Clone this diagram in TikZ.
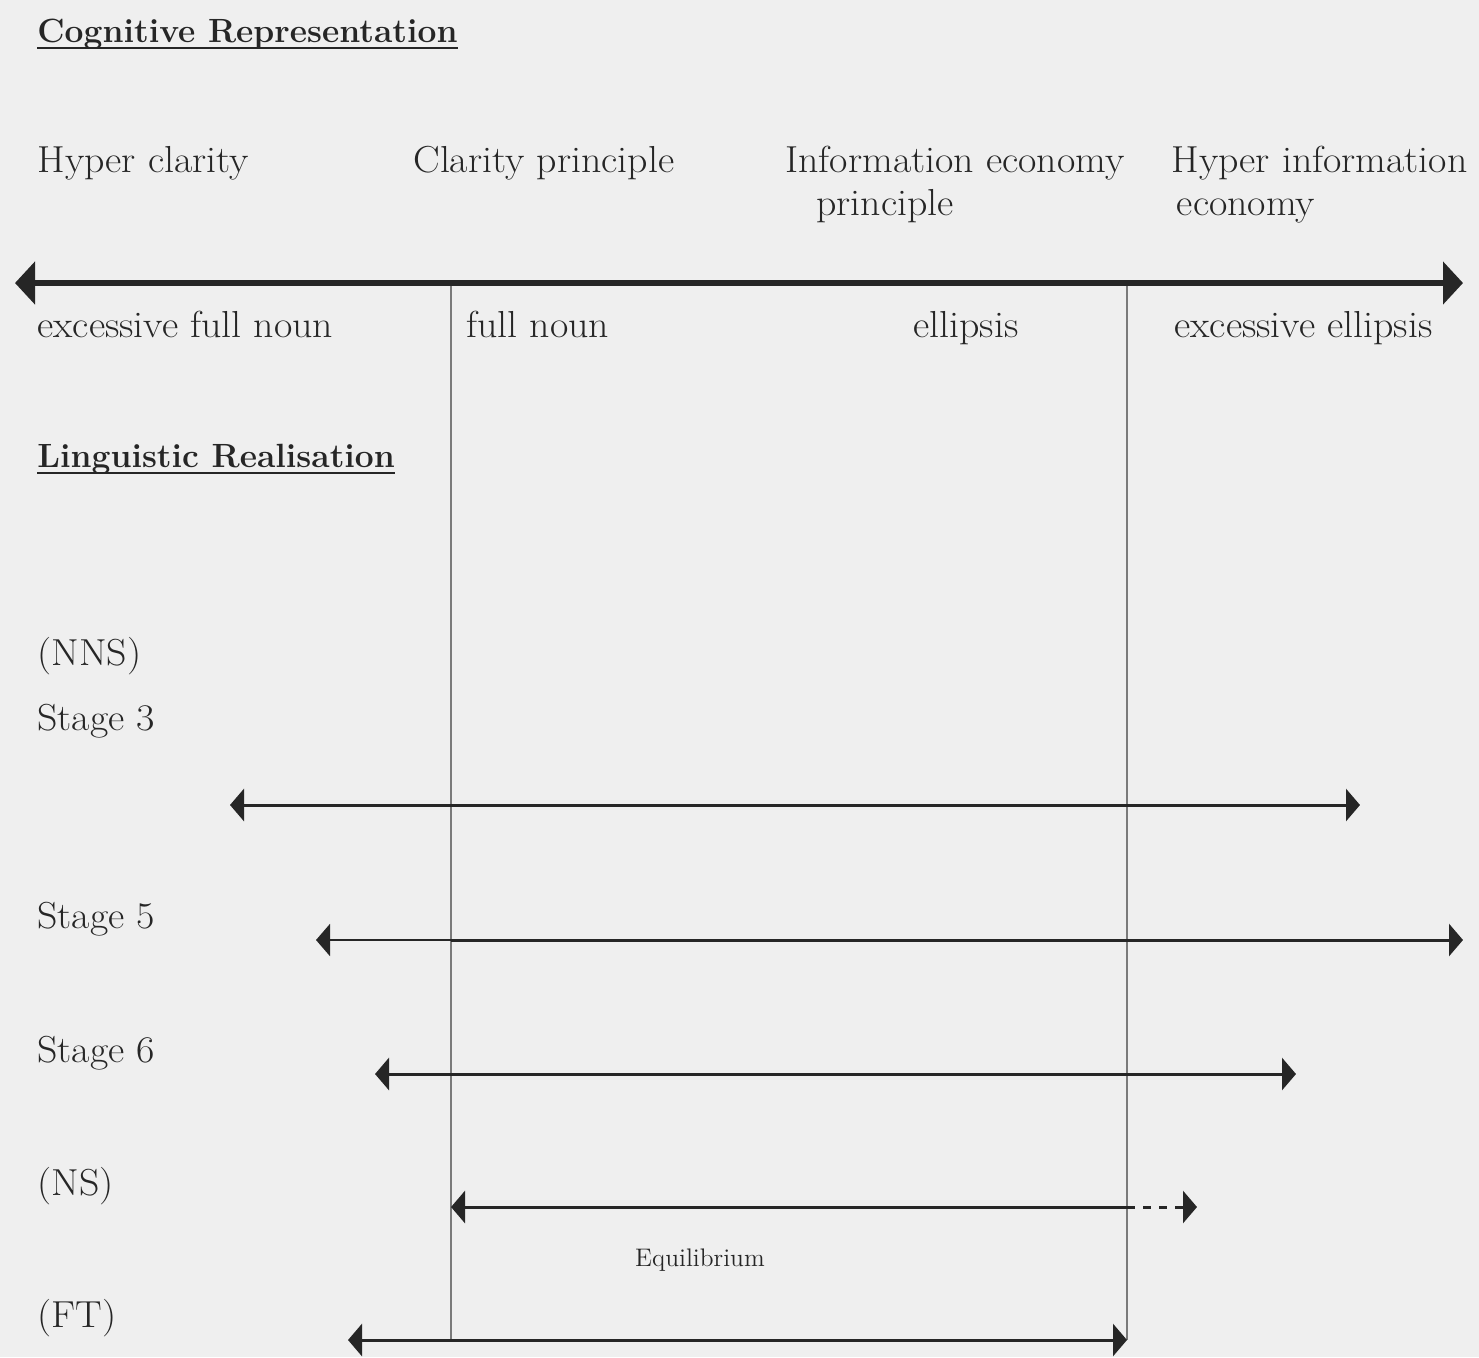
\documentclass[tikz,border=0pt]{standalone}
\usetikzlibrary{arrows.meta}
\definecolor{bg}{HTML}{EFEFEF}
\definecolor{ink}{HTML}{262626}
\definecolor{vline}{HTML}{7A7A7A}
\newcommand{\wide}[1]{\scalebox{1.06}[1]{#1}}
\begin{document}
\begin{tikzpicture}[x=0.5pt,y=-0.5pt,
  lbl/.style={anchor=base west,inner sep=0pt,text=ink,font=\fontsize{18.8}{22}\selectfont},
  lblc/.style={lbl,anchor=base},
  head/.style={anchor=base west,inner sep=0pt,text=ink,font=\fontsize{16.8}{20}\selectfont\bfseries},
  small/.style={anchor=base,inner sep=0pt,text=ink,font=\fontsize{12.7}{15}\selectfont},
  bigboth/.style={{Triangle[length=10pt,width=21pt]}-{Triangle[length=10pt,width=21pt]}},
  tipboth/.style={{Triangle[length=7pt,width=16pt]}-{Triangle[length=7pt,width=16pt]}},
  tipl/.style={{Triangle[length=7pt,width=16pt]}-},
  tipr/.style={-{Triangle[length=7pt,width=16pt]}},
  mainline/.style={draw=ink,line width=3pt},
  stageline/.style={draw=ink,line width=1.5pt},
  thinline/.style={draw=ink,line width=1pt},
  divider/.style={draw=vline,line width=1.2pt}
]
\fill[bg] (0,0) rectangle (1479,1357);
\useasboundingbox (0,0) rectangle (1479,1357);

% headings
\node[head] (h1) at (37,42) {Cognitive Representation};
\draw[ink,line width=1pt] ([yshift=-3pt]h1.base west) -- ([yshift=-3pt]h1.base east);
\node[head] (h2) at (37,467) {Linguistic Realisation};
\draw[ink,line width=1pt] ([yshift=-3pt]h2.base west) -- ([yshift=-3pt]h2.base east);

% top labels
\node[lbl] (hc) at (37,172) {\wide{Hyper clarity}};
\node[lbl] (cp) at (413,172) {\wide{Clarity principle}};
\node[lbl] (iep) at (785,172) {\wide{Information economy}};
\node[lblc] (iep2) at (885,215) {\wide{principle}};
\node[lbl] (hie) at (1171,172) {\wide{Hyper information}};
\node[lblc] (hie2) at (1246,215) {\wide{economy}};

% main axis
\coordinate (mL) at (15,283);
\coordinate (mR) at (1463,283);
\coordinate (vLt) at (451,283);
\coordinate (vRt) at (1127,283);
\coordinate (vLb) at (451,1340);
\coordinate (vRb) at (1127,1340);
\draw[divider] (vLt) -- (vLb);
\draw[divider] (vRt) -- (vRb);
\draw[mainline,bigboth] (mL) -- (mR);

\node[lbl] (efn) at (37,337) {\wide{excessive full noun}};
\node[lbl] (fn) at (466,337) {\wide{full noun}};
\node[lbl] (el) at (913,337) {\wide{ellipsis}};
\node[lbl] (eel) at (1174,337) {\wide{excessive ellipsis}};

% stages
\node[lbl] (nns) at (37,665) {\wide{(NNS)}};
\node[lbl] (s3) at (37,730) {\wide{Stage 3}};
\coordinate (s3L) at (230,805);
\coordinate (s3R) at (1360,805);
\draw[stageline,tipboth] (s3L) -- (s3R);

\node[lbl] (s5) at (37,928) {\wide{Stage 5}};
\coordinate (s5L) at (316,940);
\coordinate (s5M) at (451,940);
\coordinate (s5R) at (1463,940);
\draw[thinline,tipl] (s5L) -- (s5M);
\draw[stageline,tipr] (s5M) -- (s5R);

\node[lbl] (s6) at (37,1062) {\wide{Stage 6}};
\coordinate (s6L) at (375,1074);
\coordinate (s6R) at (1296,1074);
\draw[stageline,tipboth] (s6L) -- (s6R);

\node[lbl] (ns) at (37,1195) {\wide{(NS)}};
\coordinate (nsL) at (451,1207);
\coordinate (nsM) at (1127,1207);
\coordinate (nsR) at (1197,1207);
\draw[stageline,tipl] (nsL) -- (nsM);
\draw[stageline,tipr,dash pattern=on 4pt off 4pt] (nsM) -- (nsR);
\node[small] (eq) at (700,1266) {Equilibrium};

\node[lbl] (ft) at (37,1327) {\wide{(FT)}};
\coordinate (ftL) at (348,1340);
\draw[stageline,tipboth] (ftL) -- (vRb);
\end{tikzpicture}
\end{document}
